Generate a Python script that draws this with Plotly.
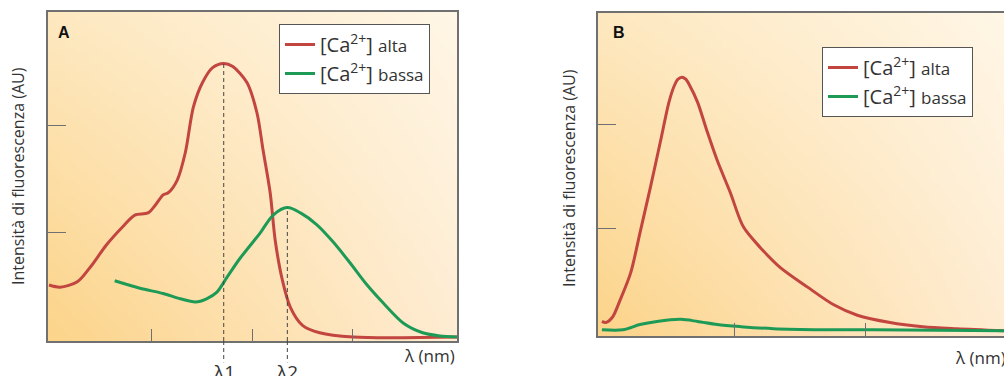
import zlib, struct, base64
import plotly.graph_objects as go

# ---------------- data (arbitrary units) ----------------
# Panel A
a_red_x = [-0.01, 0.10, 0.27, 0.40, 0.56, 0.72, 0.84, 0.97, 1.04, 1.12, 1.17, 1.26, 1.34, 1.42,
           1.51, 1.61, 1.72, 1.81, 1.95, 2.05, 2.11, 2.18, 2.23, 2.30, 2.38, 2.50, 2.67, 3.00, 4.03]
a_red_y = [0.50, 0.48, 0.53, 0.67, 0.88, 1.05, 1.16, 1.18, 1.25, 1.35, 1.37, 1.49, 1.75, 2.18,
           2.41, 2.55, 2.59, 2.56, 2.41, 2.12, 1.77, 1.37, 0.92, 0.55, 0.29, 0.12, 0.05, 0.01, 0.01]
a_green_x = [0.64, 0.89, 1.12, 1.29, 1.44, 1.55, 1.65, 1.75, 1.88, 2.08, 2.21, 2.35, 2.48, 2.64,
             2.80, 2.97, 3.14, 3.30, 3.50, 3.69, 3.86, 4.03]
a_green_y = [0.54, 0.47, 0.42, 0.37, 0.34, 0.37, 0.43, 0.57, 0.75, 0.99, 1.16, 1.23, 1.18, 1.07,
             0.91, 0.71, 0.50, 0.33, 0.14, 0.05, 0.02, 0.01]
a_xticks = [1, 2, 3]
a_yticks = [1, 2]

# Panel B
b_red_x = [-0.01, 0.02, 0.07, 0.13, 0.21, 0.28, 0.36, 0.44, 0.50, 0.54, 0.57, 0.60, 0.63, 0.66,
           0.72, 0.79, 0.87, 0.97, 1.07, 1.20, 1.35, 1.56, 1.76, 1.94, 2.19, 2.44, 2.70, 3.06]
b_red_y = [0.11, 0.10, 0.15, 0.32, 0.58, 0.96, 1.40, 1.86, 2.21, 2.37, 2.44, 2.46, 2.44, 2.38,
           2.22, 1.95, 1.66, 1.35, 1.02, 0.82, 0.63, 0.44, 0.27, 0.17, 0.10, 0.06, 0.04, 0.02]
b_green_x = [-0.01, 0.15, 0.28, 0.41, 0.59, 0.72, 0.87, 1.05, 1.30, 1.68, 2.06, 3.06]
b_green_y = [0.03, 0.03, 0.08, 0.11, 0.13, 0.11, 0.08, 0.06, 0.04, 0.03, 0.03, 0.02]
b_xticks = [1, 2]
b_yticks = [1, 2]

name_high = "[Ca<sup>2+</sup>] <span style='font-size:17px'>alta</span>"
name_low = "[Ca<sup>2+</sup>] <span style='font-size:17px'>bassa</span>"
y_title = "Intensità di fluorescenza (AU)"
x_title = "λ (nm)"

# ---------------- styling ----------------
W, H = 1004, 376
RED = "#C24540"
GREEN = "#1E9A57"
AXC = "#707070"
TXT = "#333333"
FONT = "Open Sans"


def px_x(p):
    return p / W


def px_y(p):
    return 1 - p / H


def gradient_png(w, h, bl, tl, br, tr):
    rows = []
    for j in range(h):
        v = 1 - j / (h - 1)
        row = bytearray([0])
        for i in range(w):
            u = i / (w - 1)
            for k in range(3):
                c = ((1 - u) * (1 - v) * bl[k] + (1 - u) * v * tl[k]
                     + u * (1 - v) * br[k] + u * v * tr[k])
                row.append(int(round(c)))
        rows.append(bytes(row))
    raw = b"".join(rows)

    def chunk(t, d):
        return struct.pack(">I", len(d)) + t + d + struct.pack(">I", zlib.crc32(t + d) & 0xffffffff)

    png = (b"\x89PNG\r\n\x1a\n"
           + chunk(b"IHDR", struct.pack(">IIBBBBB", w, h, 8, 2, 0, 0, 0))
           + chunk(b"IDAT", zlib.compress(raw))
           + chunk(b"IEND", b""))
    return "data:image/png;base64," + base64.b64encode(png).decode()


bg = gradient_png(80, 60, (252, 212, 138), (253, 232, 192), (254, 236, 210), (255, 246, 230))

fig = go.Figure()
line_kw = dict(shape="spline", smoothing=0.85, width=3)
fig.add_trace(go.Scatter(x=a_red_x, y=a_red_y, mode="lines", name=name_high, legendgroup="a1",
                         line=dict(color=RED, **line_kw), xaxis="x", yaxis="y", legend="legend"))
fig.add_trace(go.Scatter(x=a_green_x, y=a_green_y, mode="lines", name=name_low, legendgroup="a2",
                         line=dict(color=GREEN, **line_kw), xaxis="x", yaxis="y", legend="legend"))
fig.add_trace(go.Scatter(x=b_red_x, y=b_red_y, mode="lines", name=name_high, legendgroup="b1",
                         line=dict(color=RED, **line_kw), xaxis="x2", yaxis="y2", legend="legend2"))
fig.add_trace(go.Scatter(x=b_green_x, y=b_green_y, mode="lines", name=name_low, legendgroup="b2",
                         line=dict(color=GREEN, **line_kw), xaxis="x2", yaxis="y2", legend="legend2"))

a_yrange = [-0.028, 3.075]
b_yrange = [-0.03, 3.077]

ax_common = dict(showgrid=False, zeroline=False, showticklabels=False, ticks="inside",
                 tickcolor=AXC, tickwidth=1, showline=True, linecolor=AXC, linewidth=1.5)

leg_common = dict(xanchor="left", yanchor="top", bgcolor="white", bordercolor="#555555",
                  borderwidth=1, font=dict(size=20, color=TXT, family=FONT), itemwidth=30,
                  tracegroupgap=0)

fig.update_layout(
    width=W, height=H,
    margin=dict(l=0, r=0, t=0, b=0),
    paper_bgcolor="white", plot_bgcolor="#FEE9C6",
    font=dict(family=FONT, color=TXT),
    xaxis=dict(domain=[px_x(48), px_x(457)], range=[-0.02, 4.03], tickvals=a_xticks,
               ticklen=12, mirror=True, anchor="y", **ax_common),
    yaxis=dict(domain=[px_y(341), px_y(12)], range=a_yrange, tickvals=a_yticks,
               ticklen=18, mirror=True, anchor="x", **ax_common),
    xaxis2=dict(domain=[px_x(598), 1.0], range=[-0.04, 3.06], tickvals=b_xticks,
                ticklen=13, mirror=True, anchor="y2", **ax_common),
    yaxis2=dict(domain=[px_y(336), px_y(13)], range=b_yrange, tickvals=b_yticks,
                ticklen=18, mirror=False, anchor="x2", **ax_common),
    legend=dict(x=px_x(279), y=px_y(24), **leg_common),
    legend2=dict(x=px_x(822), y=px_y(47), **leg_common),
    showlegend=True,
)

# gradient backgrounds
for xr, yr in (("x domain", "y domain"), ("x2 domain", "y2 domain")):
    fig.add_layout_image(dict(source=bg, xref=xr, yref=yr, x=0, y=1, sizex=1, sizey=1,
                              xanchor="left", yanchor="top", sizing="stretch", layer="below"))

# dashed guide lines at the peaks (lambda1 = red peak, lambda2 = green peak)
i1 = a_red_y.index(max(a_red_y))
i2 = a_green_y.index(max(a_green_y))
lam1_x, lam1_y = a_red_x[i1], a_red_y[i1]
lam2_x, lam2_y = a_green_x[i2], a_green_y[i2]
dash_line = dict(color="#444444", width=1, dash="4px,3px")
for lx, ly in ((lam1_x, lam1_y), (lam2_x, lam2_y)):
    fig.add_shape(type="line", xref="x", yref="y", x0=lx, x1=lx, y0=a_yrange[0], y1=ly,
                  line=dash_line, layer="above")
    fig.add_shape(type="line", xref="x", yref="y domain", x0=lx, x1=lx, y0=0, y1=-0.065,
                  line=dash_line, layer="above")

ann = []
for lx, lbl in ((lam1_x, "λ1"), (lam2_x, "λ2")):
    ann.append(dict(x=lx, xref="x", y=px_y(357), yref="paper", text=lbl, showarrow=False,
                    xanchor="center", yanchor="top", font=dict(size=19, color=TXT)))
ann += [
    dict(x=px_x(457), y=px_y(355), xref="paper", yref="paper", text=x_title, showarrow=False,
         xanchor="right", yanchor="middle", font=dict(size=17, color=TXT)),
    dict(x=px_x(953), y=px_y(357), xref="paper", yref="paper", text=x_title, showarrow=False,
         xanchor="left", yanchor="middle", font=dict(size=17, color=TXT)),
    dict(x=px_x(18), y=px_y(176), xref="paper", yref="paper", text=y_title, showarrow=False,
         textangle=-90, xanchor="center", yanchor="middle", font=dict(size=16, color=TXT)),
    dict(x=px_x(569), y=px_y(178), xref="paper", yref="paper", text=y_title, showarrow=False,
         textangle=-90, xanchor="center", yanchor="middle", font=dict(size=16, color=TXT)),
    dict(x=px_x(64), y=px_y(32), xref="paper", yref="paper", text="<b>A</b>", showarrow=False,
         xanchor="center", yanchor="middle", font=dict(size=16, color="#111111", family="Arial")),
    dict(x=px_x(619), y=px_y(33), xref="paper", yref="paper", text="<b>B</b>", showarrow=False,
         xanchor="center", yanchor="middle", font=dict(size=16, color="#111111", family="Arial")),
]
fig.update_layout(annotations=ann)

fig.write_html("out.html", config={"displayModeBar": False})
